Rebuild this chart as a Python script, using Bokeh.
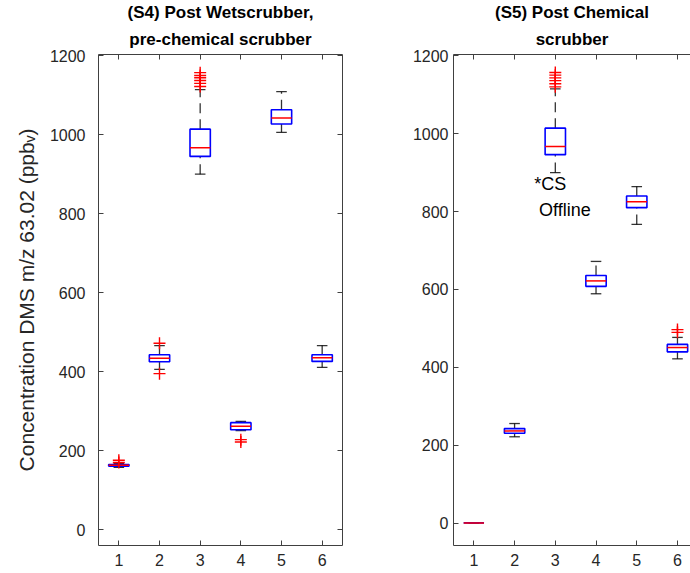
from bokeh.plotting import figure
from bokeh.layouts import row
from bokeh.models import (LinearAxis, FixedTicker, Title, Range1d, ColumnDataSource,
                          CustomJSTickFormatter, Label)
from bokeh.embed import file_html
from bokeh.resources import INLINE

groups = [1, 2, 3, 4, 5, 6]
y_ticks = [0, 200, 400, 600, 800, 1000, 1200]

# (S4) Post Wetscrubber, pre-chemical scrubber
s4_lo = [158, 406, 900, 251, 1006, 411]
s4_q1 = [161, 425, 945, 253, 1027, 426]
s4_med = [163, 434, 967, 262, 1042, 435]
s4_q3 = [165, 443, 1014, 271, 1063, 443]
s4_hi = [167, 466, 1114, 274, 1109, 466]
s4_out_x = [1, 1, 2, 2, 3, 3, 3, 3, 3, 3, 4, 4]
s4_out_y = [170, 176, 395, 472, 1122, 1130, 1137, 1144, 1150, 1157, 222, 228]

# (S5) Post Chemical scrubber
s5_lo = [1, 222, 900, 589, 767, 422]
s5_q1 = [1, 231, 946, 608, 810, 440]
s5_med = [1, 237, 967, 622, 825, 451]
s5_q3 = [1, 243, 1014, 636, 840, 459]
s5_hi = [1, 256, 1115, 672, 864, 477]
s5_out_x = [3, 3, 3, 3, 3, 3, 6, 6]
s5_out_y = [1120, 1128, 1136, 1143, 1150, 1157, 490, 497]

FONT = "Liberation Sans"
AX = "#404040"


def style_axis(ax, labels=True):
    ax.ticker = FixedTicker(ticks=[])
    ax.axis_line_color = AX
    ax.major_tick_line_color = AX
    ax.major_tick_in = 5
    ax.major_tick_out = 0
    ax.minor_tick_line_color = None
    ax.major_label_text_font = FONT
    ax.major_label_text_font_size = "16px"
    ax.major_label_text_color = "#262626"
    if not labels:
        ax.formatter = CustomJSTickFormatter(code="return ''")
        ax.major_label_standoff = 0


def panel(t1, t2, lo, q1, med, q3, hi, ox, oy, yr, width, bl, br, x_end, right_axis,
          ylabel, ystand):
    p = figure(width=width, height=573, x_range=Range1d(0.5, x_end), y_range=Range1d(*yr),
               output_backend="svg", toolbar_location=None,
               min_border_left=bl, min_border_right=br, min_border_top=54, min_border_bottom=28)
    p.xgrid.visible = False
    p.ygrid.visible = False
    p.outline_line_color = None
    p.background_fill_color = "white"
    p.border_fill_color = "white"

    src = ColumnDataSource(dict(
        x=groups,
        xl=[g - 0.25 for g in groups], xr=[g + 0.25 for g in groups],
        cl=[g - 0.13 for g in groups], cr=[g + 0.13 for g in groups],
        lo=lo, q1=q1, med=med, q3=q3, hi=hi))

    # whiskers (dashed)
    p.segment(x0="x", y0="q3", x1="x", y1="hi", source=src, line_color="black",
              line_dash="10 6", line_width=1.3, line_alpha=0.8)
    p.segment(x0="x", y0="lo", x1="x", y1="q1", source=src, line_color="black",
              line_dash="10 6", line_width=1.3, line_alpha=0.8)
    # caps
    p.segment(x0="cl", y0="hi", x1="cr", y1="hi", source=src, line_color="black",
              line_width=1.3, line_alpha=0.8)
    p.segment(x0="cl", y0="lo", x1="cr", y1="lo", source=src, line_color="black",
              line_width=1.3, line_alpha=0.8)
    # boxes
    p.quad(left="xl", right="xr", bottom="q1", top="q3", source=src, fill_color=None,
           line_color="blue", line_width=1.6)
    # medians
    p.segment(x0="xl", y0="med", x1="xr", y1="med", source=src, line_color="red",
              line_width=1.5)
    # outliers
    p.scatter(x=ox, y=oy, marker="cross", size=12, line_color="red", line_width=1.4)

    style_axis(p.xaxis[0])
    p.xaxis[0].ticker = FixedTicker(ticks=groups)
    p.xaxis[0].major_label_standoff = 8
    style_axis(p.yaxis[0])
    p.yaxis[0].ticker = FixedTicker(ticks=y_ticks)
    p.yaxis[0].major_label_standoff = ystand
    if ylabel:
        p.yaxis[0].axis_label = ylabel
        p.yaxis[0].axis_label_text_font = FONT
        p.yaxis[0].axis_label_text_font_size = "21px"
        p.yaxis[0].axis_label_text_font_style = "normal"
        p.yaxis[0].axis_label_text_color = "#262626"
        p.yaxis[0].axis_label_standoff = 9

    top = LinearAxis()
    style_axis(top, labels=False)
    top.ticker = FixedTicker(ticks=groups)
    p.add_layout(top, "above")
    if right_axis:
        r = LinearAxis()
        style_axis(r, labels=False)
        r.ticker = FixedTicker(ticks=y_ticks)
        p.add_layout(r, "right")

    p.add_layout(Title(text=t2, align="center", text_font=FONT, text_font_size="17px",
                       text_font_style="bold", text_color="black", standoff=11), "above")
    p.add_layout(Title(text=t1, align="center", text_font=FONT, text_font_size="17px",
                       text_font_style="bold", text_color="black", standoff=1), "above")
    return p


p1 = panel("(S4) Post Wetscrubber,", "pre-chemical scrubber",
           s4_lo, s4_q1, s4_med, s4_q3, s4_hi, s4_out_x, s4_out_y,
           (-40, 1203), 380, 98, 38, 6.5, True, "Concentration DMS m/z 63.02 (ppbᵥ)", 13)
p2 = panel("(S5) Post Chemical", "scrubber",
           s5_lo, s5_q1, s5_med, s5_q3, s5_hi, s5_out_x, s5_out_y,
           (-57, 1203), 310, 73, 0, 6.32, False, None, 5)

p2.add_layout(Label(x=2.48, y=871, text="*CS", text_font=FONT, text_font_size="18px",
                    text_color="black", text_baseline="middle", text_align="left"))
p2.add_layout(Label(x=2.6, y=805, text="Offline", text_font=FONT, text_font_size="18px",
                    text_color="black", text_baseline="middle", text_align="left"))

layout = row(p1, p2)
open("out.html", "w").write(file_html(layout, INLINE))
